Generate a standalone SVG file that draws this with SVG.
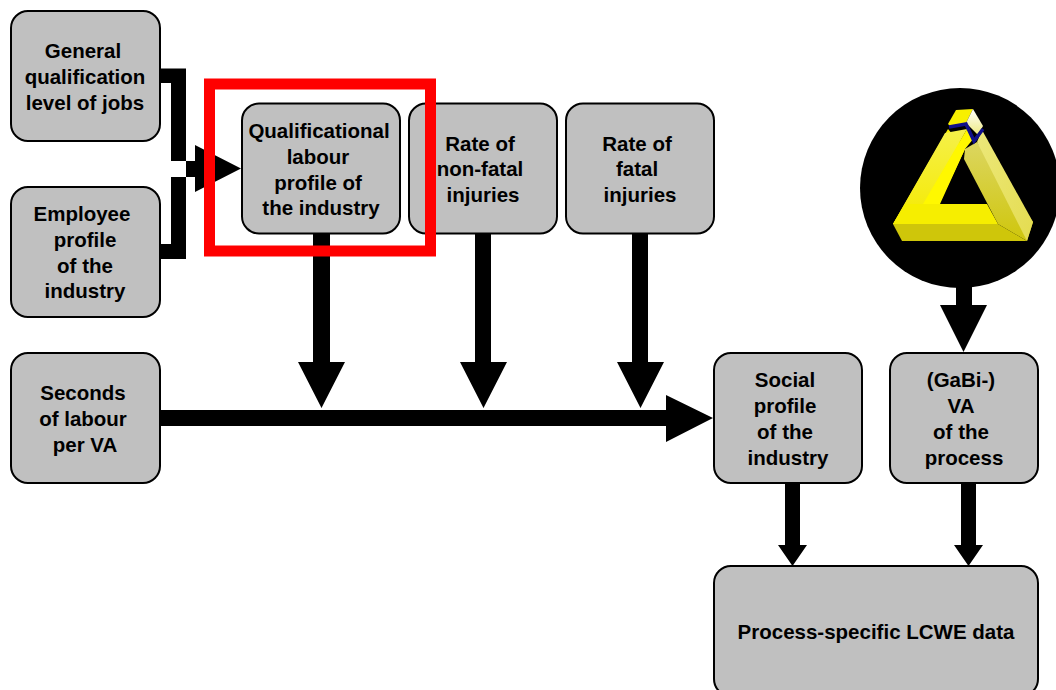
<svg xmlns="http://www.w3.org/2000/svg" width="1056" height="690" viewBox="0 0 1056 690">
<style>
.b{fill:#c0c0c0;stroke:#000;stroke-width:2}
text{font-family:"Liberation Sans",Arial,sans-serif;font-weight:700;font-size:20.5px;fill:#000;text-anchor:middle}
.c{fill:#000;stroke:none}
</style>
<defs>
<linearGradient id="g1" x1="0" y1="0" x2="0" y2="1"><stop offset="0" stop-color="#f5f04a"/><stop offset="1" stop-color="#f5ea00"/></linearGradient>
<linearGradient id="g2" x1="0" y1="0" x2="0" y2="1"><stop offset="0" stop-color="#dcd660"/><stop offset="1" stop-color="#cfc60c"/></linearGradient>
<linearGradient id="g3" x1="0" y1="0" x2="1" y2="1"><stop offset="0" stop-color="#ece87a"/><stop offset="1" stop-color="#e4dc50"/></linearGradient>
<linearGradient id="g4" x1="0" y1="0" x2="0" y2="1"><stop offset="0" stop-color="#ffffff"/><stop offset="1" stop-color="#eeea80"/></linearGradient>
</defs>
<rect width="1056" height="690" fill="#fff"/>
<g id="connectors">
<path class="c" d="M160 68.500H186V259H160V244H171V177H195V192L241 168.500L195 145V161H171V83H160Z"/>
<path class="c" d="M313 234H330V362H345L321.500 408L298 362H313Z"/>
<path class="c" d="M475 234H491V362H507L483.500 408L460 362H475Z"/>
<path class="c" d="M632 234H648V362H664L640.500 408L617 362H632Z"/>
<path class="c" d="M160 410H666V395L713 418L666 442V426H160Z"/>
<path class="c" d="M956 285H972V305H987L963.500 352L940 305H956Z"/>
<path class="c" d="M785 483H800V545H807L792.500 566L778 545H785Z"/>
<path class="c" d="M961 483H976V545H983L968.500 566L954 545H961Z"/>
</g>
<g id="logo">
<circle cx="960" cy="188" r="100" fill="#000"/>
<path d="M893 224L970 224L965 204L939 204L965 149L948 129Z" fill="#f7f000"/>
<path d="M893 224L945 133L967 129L925 204L940 204L970 224Z" fill="url(#g1)"/>
<path d="M923 204L967 129L974 138L965 149L940 204Z" fill="#fff800"/>
<path d="M923 204L1000 204L998 218L898 224L893 224Z" fill="#f7f000" opacity="0"/>
<path d="M923 204H987L998 224H893L905 204Z" fill="#f6ee00"/>
<path d="M893 224H998L1027 221L1027 221L1027 241L902 241Z" fill="none"/>
<path d="M893 224H998L1027 241H902Z" fill="none"/>
<path d="M893 224H998L1027 241H902Z" fill="#cfc60a"/>
<path d="M965 149L977 142L1033 222L1027 241L998 224L964 159Z" fill="url(#g2)"/>
<path d="M977 142L982 130L1033 222L1027 241Z" fill="url(#g3)"/>
<path d="M948 124L956 110L973 109L966 123L950 126Z" fill="#f8f000"/>
<path d="M966 123L973 109L983 126L978 135Z" fill="url(#g4)"/>
<path d="M949 127L966 124L974 141L983 129" fill="none" stroke="#10108a" stroke-width="3.500"/>
</g>
<g id="n1"><rect class="b" x="11" y="11" width="149" height="130" rx="17"/><text x="83" y="58">General</text><text x="85" y="84">qualification</text><text x="85" y="110">level of jobs</text></g>
<g id="n2"><rect class="b" x="11" y="187" width="149" height="130" rx="17"/><text x="82" y="221">Employee</text><text x="85" y="247">profile</text><text x="85" y="273">of the</text><text x="85" y="298">industry</text></g>
<g id="n3"><rect class="b" x="11" y="353" width="149" height="130" rx="17"/><text x="83" y="400">Seconds</text><text x="83" y="426">of labour</text><text x="85" y="452">per VA</text></g>
<g id="n4"><rect class="b" x="242" y="103.500" width="158" height="130" rx="17"/><text x="319" y="138">Qualificational</text><text x="318" y="164">labour</text><text x="318" y="190">profile of</text><text x="321" y="215">the industry</text></g>
<g id="n5"><rect class="b" x="409" y="103.500" width="148" height="130" rx="17"/><text x="480" y="151">Rate of</text><text x="480" y="176">non-fatal</text><text x="483" y="202">injuries</text></g>
<g id="n6"><rect class="b" x="566" y="103.500" width="148" height="130" rx="17"/><text x="637" y="151">Rate of</text><text x="637" y="176">fatal</text><text x="640" y="202">injuries</text></g>
<g id="n7"><rect class="b" x="714" y="353" width="148" height="130" rx="17"/><text x="785" y="387">Social</text><text x="785" y="413">profile</text><text x="785" y="439">of the</text><text x="788" y="465">industry</text></g>
<g id="n8"><rect class="b" x="890" y="353" width="148" height="130" rx="17"/><text x="961" y="387">(GaBi-)</text><text x="961" y="413">VA</text><text x="961" y="439">of the</text><text x="964" y="465">process</text></g>
<g id="n9"><rect class="b" x="714" y="566" width="324" height="130" rx="17"/><text x="876" y="639">Process-specific LCWE data</text></g>
<g id="highlight"><rect x="209.500" y="84" width="221" height="167" fill="none" stroke="#f00" stroke-width="11"/></g>
</svg>
